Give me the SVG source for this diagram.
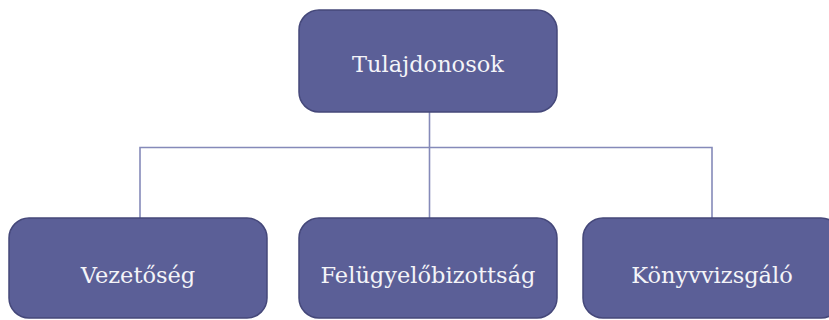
<svg xmlns="http://www.w3.org/2000/svg" width="829" height="320" viewBox="0 0 829 320">
<style>
.box{fill:#5B5F97;stroke:#45487A;stroke-width:1.5}
.lbl{font-family:"DejaVu Serif","Liberation Serif",serif;font-size:22.5px;fill:#F4F4F8;text-anchor:middle}
.con{fill:none;stroke:#858AB9;stroke-width:1.6}
</style>
<rect width="829" height="320" fill="#FFFFFF"/>
<g id="connectors">
<path class="con" d="M429.5 112 V218"/>
<path class="con" d="M140 218 V147.5 H712 V218"/>
</g>
<g id="tulajdonosok">
<rect class="box" x="299" y="10" width="258" height="102" rx="20"/>
<text class="lbl" x="428" y="72">Tulajdonosok</text>
</g>
<g id="vezetoseg">
<rect class="box" x="9" y="218" width="258" height="100" rx="20"/>
<text class="lbl" x="138" y="283">Vezetőség</text>
</g>
<g id="felugyelobizottsag">
<rect class="box" x="299" y="218" width="258" height="100" rx="20"/>
<text class="lbl" x="428" y="283">Felügyelőbizottság</text>
</g>
<g id="konyvvizsgalo">
<rect class="box" x="583" y="218" width="258" height="100" rx="20"/>
<text class="lbl" x="712" y="283">Könyvvizsgáló</text>
</g>
</svg>
